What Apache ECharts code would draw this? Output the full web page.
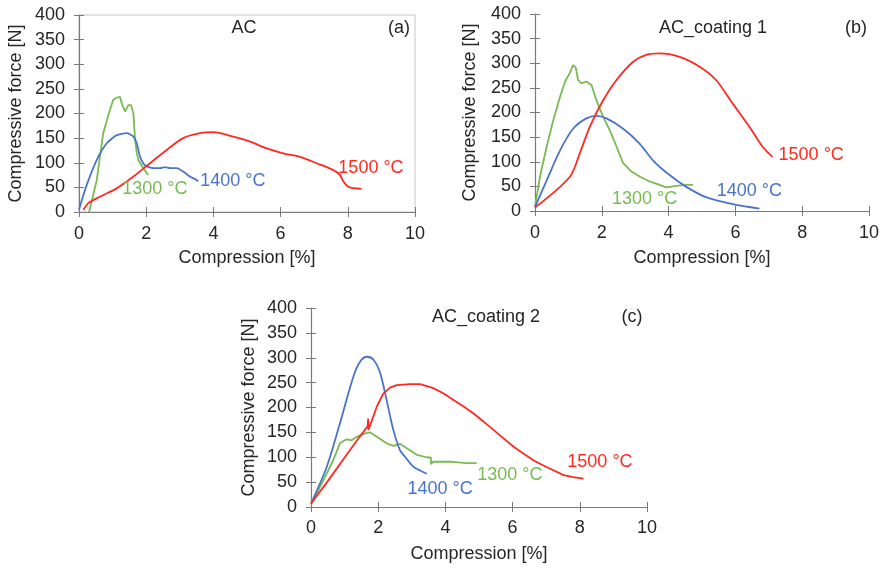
<!DOCTYPE html>
<html>
<head>
<meta charset="utf-8">
<script src="https://cdn.jsdelivr.net/npm/echarts@6/dist/echarts.min.js"></script>
<style>html,body{margin:0;padding:0;background:#fff}#c{width:882px;height:568px}</style>
</head>
<body>
<div id="c"></div>
<script>
// ---- Data (Compression [%], Compressive force [N]) ----
// Panel (a) AC
const aX1300 = [0.30,0.33,0.53,0.72,0.92,1.02,1.12,1.22,1.27,1.37,1.47,1.55,1.62,1.67,1.72,1.77,1.91,2.06];
const aF1300 = [0,4,65,160,207,228,232,234,221,204,217,217,200,146,120,105,89,75];
const aX1400 = [0.00,0.23,0.53,0.82,1.12,1.42,1.62,1.72,1.82,1.96,2.21,2.41,2.56,2.71,2.91,3.10,3.30,3.50,3.55];
const aF1400 = [5,55,106,139,156,160,153,139,112,95,89,89,91,89,89,82,72,65,62];
const aX1500 = [0.13,0.28,0.62,1.12,1.62,2.11,2.61,3.10,3.60,4.00,4.59,5.09,5.59,6.08,6.58,7.07,7.57,7.77,7.87,8.02,8.41];
const aF1500 = [4,18,31,48,72,99,126,150,160,162,153,143,129,119,112,99,85,75,62,51,47];
// Panel (b) AC_coating 1
const bX1300 = [0.00,0.15,0.35,0.55,0.75,0.90,1.04,1.14,1.22,1.29,1.39,1.54,1.69,1.84,2.04,2.24,2.44,2.64,2.89,3.13,3.43,3.73,3.93,4.23,4.53,4.73];
const bF1300 = [9,70,131,185,232,263,280,296,291,266,259,263,256,225,191,164,131,97,80,70,60,53,48,51,53,53];
const bX1400 = [0.00,0.35,0.75,1.14,1.54,1.84,2.14,2.64,3.13,3.53,4.03,4.53,5.12,5.92,6.72];
const bF1400 = [8,62,123,167,188,193,188,167,137,103,73,49,28,14,5];
const bX1500 = [0.00,1.04,1.34,1.64,2.04,2.44,2.94,3.33,3.73,4.33,4.93,5.42,5.92,6.42,6.82,7.11];
const bF1500 = [7,69,117,171,225,266,303,317,320,313,293,266,218,171,130,110];
// Panel (c) AC_coating 2
const cX1300 = [0.00,0.37,0.66,0.86,1.06,1.21,1.36,1.61,1.76,1.96,2.25,2.45,2.65,2.85,3.15,3.44,3.57,3.57,3.64,4.14,4.63,4.93];
const cF1300 = [5,54,94,128,136,134,141,148,150,141,128,123,127,118,105,100,99,86,91,91,88,88];
const cX1400 = [0.00,0.47,0.86,1.26,1.46,1.66,1.86,2.06,2.25,2.45,2.65,2.80,3.05,3.45];
const cF1400 = [7,81,168,262,292,302,296,269,215,155,114,101,81,67];
const cX1500 = [0.00,0.50,1.06,1.36,1.55,1.69,1.70,1.71,1.80,1.96,2.15,2.35,2.55,2.95,3.25,3.64,3.95,4.24,4.54,4.84,5.13,5.43,5.73,6.03,6.33,6.62,6.90,7.12,7.52,7.80,8.11];
const cF1500 = [7,52,105,133,150,163,178,155,172,202,228,240,245,247,247,239,228,215,202,188,172,155,138,121,107,94,84,77,64,60,57];

const tempLabels = ['1300 °C','1400 °C','1500 °C'];
const panelTitles = ['AC','AC_coating 1','AC_coating 2'];
const panelTags = ['(a)','(b)','(c)'];

const colors = {'1300 °C':'#77bb52','1400 °C':'#4a74c9','1500 °C':'#ff2a1f'};

const panels = [
  {xs:[aX1300,aX1400,aX1500], fs:[aF1300,aF1400,aF1500], labelAt:[[2.26,46.7],[4.58,63],[8.69,89]], smooth:[false,0.2,0.3]},
  {xs:[bX1300,bX1400,bX1500], fs:[bF1300,bF1400,bF1500], labelAt:[[3.28,24],[6.42,41],[8.27,114]], smooth:[false,0.3,0.3]},
  {xs:[cX1300,cX1400,cX1500], fs:[cF1300,cF1400,cF1500], labelAt:[[5.92,64],[3.84,36],[8.6,90]], smooth:[false,0.3,false]}
];

// ---- Layout ----
const grids = [
  {left:79, top:15, width:336, height:197, show:true, borderColor:'#c8c8c8', borderWidth:1, backgroundColor:'transparent'},
  {left:535, top:14, width:335, height:197},
  {left:311, top:308, width:336, height:199}
];
const xNameGap = [37, 38, 38];
const xLabelMargin = [13, 13, 12];
const yNameGap = [54, 56, 53];

const font = 'Liberation Sans, Arial, sans-serif';
const txt = '#262626';
const axisCol = '#7a7a7a';

const xAxes = [], yAxes = [], series = [];
grids.forEach((g, i) => {
  xAxes.push({
    gridIndex:i, type:'value', min:0, max:10, interval:2,
    name:'Compression [%]', nameLocation:'middle', nameGap:xNameGap[i],
    nameTextStyle:{color:txt, fontSize:18, fontFamily:font},
    axisLine:{show:true, onZero:false, lineStyle:{color:axisCol, width:1.2}},
    axisTick:{show:true, length:5, lineStyle:{color:axisCol}},
    axisLabel:{color:txt, fontSize:18, fontFamily:font, margin:xLabelMargin[i]},
    splitLine:{show:false}
  });
  // inside ticks (second half of the crossing tick marks)
  xAxes.push({
    gridIndex:i, type:'value', min:0, max:10, interval:2, position:'bottom',
    axisLine:{show:false}, axisTick:{show:true, inside:true, length:5, lineStyle:{color:axisCol}},
    axisLabel:{show:false}, splitLine:{show:false}
  });
  yAxes.push({
    gridIndex:i, type:'value', min:0, max:400, interval:50,
    name:'Compressive force [N]', nameLocation:'middle', nameGap:yNameGap[i],
    nameTextStyle:{color:txt, fontSize:18, fontFamily:font},
    axisLine:{show:true, onZero:false, lineStyle:{color:axisCol, width:1.2}},
    axisTick:{show:true, length:5, lineStyle:{color:axisCol}},
    axisLabel:{color:txt, fontSize:18, fontFamily:font, margin:14},
    splitLine:{show:false}
  });
  yAxes.push({
    gridIndex:i, type:'value', min:0, max:400, interval:50, position:'left',
    axisLine:{show:false}, axisTick:{show:true, inside:true, length:5, lineStyle:{color:axisCol}},
    axisLabel:{show:false}, splitLine:{show:false}
  });
  const p = panels[i];
  tempLabels.forEach((t, k) => {
    series.push({
      type:'line', xAxisIndex:i*2, yAxisIndex:i*2, showSymbol:false, symbol:'none',
      smooth:p.smooth[k], animation:false,
      lineStyle:{color:colors[t], width:1.8},
      data:p.xs[k].map((x, j) => [x, p.fs[k][j]]),
      markPoint:{
        symbol:'circle', symbolSize:0, animation:false,
        label:{show:true, position:'inside', formatter:t, color:colors[t], fontSize:18, fontFamily:font},
        data:[{coord:p.labelAt[k], value:t}]
      }
    });
  });
});

const titlePos = [[244,28],[713,28],[486,317]];
const tagPos = [[399,28],[856,28],[632,317]];
const graphic = [];
panelTitles.forEach((t, i) => {
  graphic.push({type:'text', style:{x:titlePos[i][0], y:titlePos[i][1], text:t, fill:txt, font:'18px '+font, textAlign:'center', textVerticalAlign:'middle'}});
  graphic.push({type:'text', style:{x:tagPos[i][0], y:tagPos[i][1], text:panelTags[i], fill:txt, font:'18px '+font, textAlign:'center', textVerticalAlign:'middle'}});
});

const chart = echarts.init(document.getElementById('c'), null, {renderer:'canvas'});
chart.setOption({
  animation:false,
  backgroundColor:'#fff',
  grid:grids, xAxis:xAxes, yAxis:yAxes, series:series, graphic:graphic
});
</script>
</body>
</html>
